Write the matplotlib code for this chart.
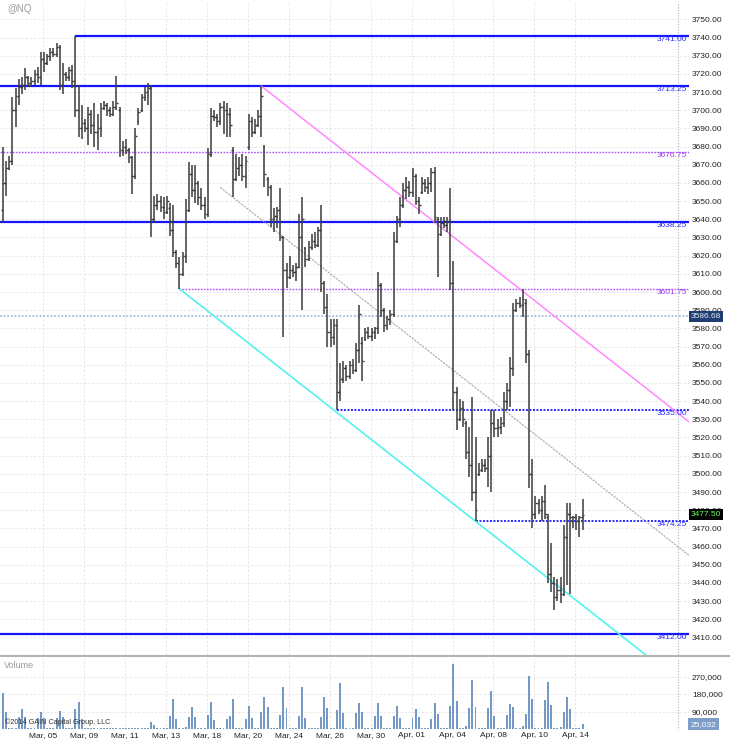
import numpy as np
import matplotlib
matplotlib.use("Agg")
import matplotlib.pyplot as plt
import matplotlib.transforms as mtransforms
from matplotlib.lines import Line2D
from matplotlib.ticker import FuncFormatter

plt.rcParams['font.family'] = ['Liberation Sans', 'DejaVu Sans']

# ---------------- data ----------------
symbol = "@NQ"
date_labels = ["Mar, 05", "Mar, 09", "Mar, 11", "Mar, 13", "Mar, 18", "Mar, 20", "Mar, 24",
               "Mar, 26", "Mar, 30", "Apr, 01", "Apr, 04", "Apr, 08", "Apr, 10", "Apr, 14"]

opens = [3645, 3660, 3668, 3672, 3700, 3708, 3713, 3714, 3718, 3715,
         3716, 3720, 3718, 3728, 3726, 3730, 3732, 3731, 3735, 3714,
         3720, 3718, 3722, 3716, 3700, 3690, 3693, 3690, 3698, 3692,
         3688, 3690, 3701, 3703, 3700, 3698, 3702, 3700, 3678, 3680,
         3678, 3674, 3664, 3694, 3700, 3707, 3710, 3712, 3640, 3648,
         3650, 3647, 3644, 3646, 3634, 3622, 3616, 3610, 3620, 3645,
         3665, 3656, 3660, 3652, 3648, 3643, 3676, 3697, 3696, 3694,
         3702, 3700, 3698, 3678, 3662, 3668, 3670, 3664, 3680, 3694,
         3688, 3692, 3697, 3680, 3662, 3658, 3640, 3642, 3645, 3630,
         3612, 3608, 3612, 3611, 3614, 3630, 3624, 3618, 3625, 3628,
         3626, 3634, 3605, 3592, 3578, 3575, 3582, 3545, 3552, 3558,
         3554, 3560, 3557, 3568, 3572, 3574, 3578, 3576, 3578, 3580,
         3604, 3590, 3582, 3585, 3588, 3628, 3640, 3648, 3656, 3658,
         3655, 3664, 3650, 3655, 3660, 3658, 3660, 3666, 3640, 3632,
         3638, 3637, 3639, 3605, 3545, 3530, 3536, 3528, 3512, 3505,
         3490, 3500, 3502, 3505, 3503, 3510, 3528, 3525, 3526, 3528,
         3540, 3546, 3558, 3590, 3594, 3593, 3594, 3566, 3500, 3478,
         3484, 3480, 3485, 3476, 3445, 3440, 3432, 3436, 3434, 3465,
         3478, 3474, 3476, 3474, 3476]

highs = [3680, 3672, 3675, 3707, 3712, 3717, 3718, 3723, 3719, 3718,
         3722, 3724, 3732, 3732, 3731, 3734, 3734, 3737, 3736, 3726,
         3721, 3724, 3725, 3741, 3714, 3703, 3695, 3702, 3700, 3704,
         3698, 3704, 3705, 3704, 3702, 3705, 3719, 3702, 3683, 3684,
         3679, 3675, 3690, 3701, 3709, 3713, 3715, 3714, 3653, 3654,
         3653, 3652, 3653, 3649, 3648, 3623, 3619, 3622, 3651, 3671.5,
         3670, 3670, 3661, 3657, 3652, 3679, 3701, 3700, 3698, 3704,
         3705, 3704, 3701, 3680, 3676, 3674, 3676, 3675, 3698, 3696,
         3695, 3700, 3713.25, 3681, 3663, 3659, 3646, 3647, 3657, 3631,
         3616, 3620, 3615, 3616, 3643, 3652, 3625, 3628, 3632, 3633,
         3636, 3648, 3606, 3599, 3585, 3585, 3585, 3561, 3562, 3560,
         3562, 3563, 3572, 3593, 3575, 3580, 3581, 3580, 3581, 3611,
         3605, 3591, 3587, 3590, 3633, 3642, 3652, 3660, 3663, 3661,
         3668, 3665, 3652, 3663, 3662, 3663, 3668, 3669, 3641, 3641,
         3641, 3641, 3657, 3617, 3548, 3541, 3540, 3529, 3526, 3542,
         3520, 3506, 3508, 3508, 3520, 3535, 3535, 3530, 3531, 3545,
         3550, 3564, 3594, 3596, 3597, 3601.75, 3596, 3568, 3508, 3488,
         3486, 3488, 3494, 3478, 3462, 3443, 3442, 3443, 3472, 3484,
         3484, 3477, 3478, 3477, 3486]

lows = [3638, 3653, 3667, 3670, 3691, 3703, 3709, 3711, 3713, 3713,
        3714, 3715, 3714, 3721, 3725, 3727, 3729, 3729, 3711, 3709,
        3716, 3716, 3712, 3696, 3685, 3684, 3688, 3681, 3687, 3680,
        3678, 3685, 3700, 3697, 3696, 3697, 3700, 3674, 3675, 3676,
        3671, 3654, 3662, 3692, 3699, 3705, 3703, 3630, 3638, 3645,
        3644, 3640, 3643, 3631, 3619, 3613, 3601.75, 3609, 3616, 3644,
        3652, 3649, 3648, 3645, 3640, 3641, 3674, 3694, 3691, 3692,
        3687, 3685, 3685, 3652, 3661, 3664, 3661, 3657, 3678, 3685,
        3687, 3691, 3685, 3658, 3653, 3636, 3633, 3635, 3628, 3575,
        3602, 3607, 3608, 3606, 3613, 3590, 3614, 3617, 3623, 3624,
        3625, 3600, 3588, 3570, 3570, 3571, 3535, 3540, 3550, 3551,
        3552, 3555, 3556, 3561, 3551, 3573, 3574, 3573, 3574, 3577,
        3586, 3578, 3579, 3582, 3586, 3627, 3636, 3646, 3651, 3652,
        3652, 3648, 3643, 3654, 3655, 3654, 3655, 3638, 3608, 3631,
        3635, 3633, 3601, 3535, 3524, 3529, 3526, 3508, 3498, 3485,
        3474.25, 3499, 3501, 3501, 3493, 3490, 3520, 3520, 3522, 3526,
        3535, 3537, 3554, 3589, 3591, 3586, 3561, 3492, 3470, 3475,
        3478, 3474, 3475, 3440, 3435, 3425, 3430, 3429, 3433, 3439,
        3434, 3470, 3469, 3465, 3469]

closes = [3660, 3668, 3672, 3700, 3708, 3713, 3714, 3718, 3715, 3716,
          3720, 3718, 3728, 3726, 3730, 3732, 3731, 3735, 3714, 3720,
          3718, 3722, 3716, 3700, 3690, 3693, 3690, 3698, 3692, 3688,
          3690, 3701, 3703, 3700, 3698, 3702, 3704, 3678, 3680, 3678,
          3674, 3664, 3686, 3699, 3707, 3710, 3712, 3640, 3648, 3650,
          3647, 3644, 3650, 3634, 3622, 3616, 3610, 3620, 3645, 3665,
          3656, 3660, 3652, 3648, 3643, 3676, 3697, 3696, 3694, 3702,
          3700, 3698, 3692, 3662, 3668, 3670, 3664, 3672, 3694, 3688,
          3692, 3697, 3708, 3665, 3658, 3640, 3642, 3645, 3630, 3612,
          3608, 3612, 3611, 3614, 3630, 3640, 3618, 3625, 3628, 3626,
          3634, 3605, 3592, 3578, 3575, 3582, 3545, 3552, 3558, 3554,
          3560, 3557, 3568, 3588, 3562, 3578, 3576, 3578, 3580, 3604,
          3590, 3582, 3585, 3588, 3628, 3640, 3648, 3656, 3658, 3655,
          3664, 3650, 3648, 3660, 3658, 3660, 3666, 3641, 3632, 3638,
          3637, 3639, 3605, 3545, 3530, 3536, 3530, 3512, 3505, 3490,
          3480, 3502, 3505, 3503, 3510, 3528, 3525, 3526, 3528, 3540,
          3546, 3558, 3590, 3594, 3593, 3596, 3566, 3500, 3478, 3484,
          3480, 3485, 3478, 3445, 3440, 3432, 3436, 3434, 3465, 3478,
          3476, 3476, 3474, 3476, 3477.5]

volumes = [187000, 86000, 4000, 4000, 5000, 63000, 105000, 60000, 5000, 4000,
           6000, 55000, 89000, 55000, 4000, 3000, 4000, 55000, 93000, 63000,
           4000, 3000, 5000, 101000, 137000, 53000, 4000, 5000, 3000, 4000,
           5000, 3000, 4000, 6000, 3000, 4000, 5000, 3000, 4000, 5000,
           3000, 4000, 6000, 3000, 4000, 5000, 3000, 34000, 20000, 3000,
           3000, 4000, 3000, 67000, 154000, 50000, 4000, 3000, 12000, 60000,
           113000, 63000, 4000, 3000, 5000, 72000, 137000, 46000, 4000, 3000,
           5000, 50000, 69000, 153000, 4000, 3000, 5000, 50000, 120000, 55000,
           4000, 5000, 86000, 163000, 111000, 4000, 3000, 5000, 72000, 214000,
           110000, 4000, 3000, 5000, 65000, 218000, 57000, 4000, 3000, 5000,
           4000, 60000, 166000, 106000, 4000, 5000, 100000, 238000, 81000, 4000,
           3000, 5000, 81000, 132000, 86000, 4000, 3000, 5000, 69000, 132000,
           69000, 4000, 3000, 5000, 67000, 120000, 55000, 4000, 3000, 5000,
           55000, 101000, 62000, 4000, 3000, 5000, 50000, 132000, 77000, 4000,
           3000, 5000, 120000, 333000, 146000, 4000, 3000, 15000, 106000, 252000,
           115000, 4000, 3000, 5000, 106000, 197000, 69000, 4000, 3000, 5000,
           72000, 127000, 115000, 4000, 3000, 17000, 77000, 273000, 153000, 4000,
           3000, 7000, 147000, 242000, 125000, 4000, 3000, 12000, 86000, 163000,
           103000, 4000, 3000, 4000, 25032]

levels = [3741.00, 3713.25, 3676.75, 3638.25, 3601.75, 3535.00, 3474.25, 3412.00]
level_kinds = ["solid", "solid", "purple", "solid", "purple", "blue_dot", "blue_dot", "solid"]
level_anchored = [True, False, False, False, True, True, True, False]

crosshair_price = 3586.68
channel_slope = -1.36          # price per bar
channel_mid_start = 69         # bar where the mid line begins
crosshair_bar = 214.3

n = len(closes)
assert len(opens) == len(highs) == len(lows) == len(volumes) == n
idx = np.arange(n)
opens = np.array(opens, float); highs = np.array(highs, float)
lows = np.array(lows, float); closes = np.array(closes, float)
volumes = np.array(volumes, float)

# ---------------- layout ----------------
W, H = 730, 750
fig = plt.figure(figsize=(W / 100, H / 100), dpi=100)
fig.patch.set_facecolor("white")

def rect(x0, y0, x1, y1):
    return [x0 / W, 1 - y1 / H, (x1 - x0) / W, (y1 - y0) / H]

ax = fig.add_axes(rect(0, 2, 689, 655))
axv = fig.add_axes(rect(0, 658, 689, 730), sharex=ax)

bar_px = 3.15
first_px = 3.0
x_lo = (0 - first_px) / bar_px
x_hi = (689 - first_px) / bar_px
ax.set_xlim(x_lo, x_hi)

px_per_pt = 1.818
ref_y, ref_p = 37.5, 3740.0
ax.set_ylim(ref_p - (655 - ref_y) / px_per_pt, ref_p - (2 - ref_y) / px_per_pt)
axv.set_ylim(-(730 - 729) / 17.5 * 90000, (729 - 658) / 17.5 * 90000)

for a in (ax, axv):
    for s in a.spines.values():
        s.set_visible(False)
    a.set_facecolor("white")

tick_pos = [12.7 + 13 * k for k in range(len(date_labels))]
grid_kw = dict(color="#e4e4e4", lw=0.6, ls=(0, (3, 2)), zorder=0)

# price axis
ax.yaxis.tick_right()
ax.set_yticks(np.arange(3410, 3751, 10))
ax.yaxis.set_major_formatter(FuncFormatter(lambda v, p: f"{v:.2f}"))
ax.tick_params(axis="y", length=0, pad=2.2, labelsize=6, labelcolor="#222222")
ax.set_xticks(tick_pos)
ax.tick_params(axis="x", length=0, labelbottom=False)
ax.grid(True, **grid_kw)
ax.set_axisbelow(True)

# volume axis
axv.yaxis.tick_right()
axv.set_yticks([90000, 180000, 270000])
axv.yaxis.set_major_formatter(FuncFormatter(lambda v, p: f"{int(v):,}"))
axv.tick_params(axis="y", length=0, pad=2.2, labelsize=6, labelcolor="#222222")
axv.set_xticks(tick_pos)
axv.set_xticklabels(date_labels)
axv.tick_params(axis="x", length=0, pad=1.5, labelsize=6, labelcolor="#222222")
axv.grid(True, **grid_kw)
axv.set_axisbelow(True)

# ---------------- OHLC bars ----------------
bar_col = "#3a3a3a"
ax.vlines(idx, lows, highs, color=bar_col, lw=1.1, zorder=5)
ax.hlines(opens, idx - 0.55, idx, color=bar_col, lw=1.0, zorder=5)
ax.hlines(closes, idx, idx + 0.55, color=bar_col, lw=1.0, zorder=5)

# ---------------- volume ----------------
axv.bar(idx, volumes, width=0.62, color="#7499c4", zorder=3)

# ---------------- levels ----------------
blended = mtransforms.blended_transform_factory(ax.transAxes, ax.transData)
styles = {
    "solid": dict(color="#1414ff", lw=1.6, ls="-"),
    "purple": dict(color="#b050ff", lw=1.0, ls=(0, (1.2, 1.0))),
    "blue_dot": dict(color="#2a2aff", lw=1.4, ls=(0, (1.0, 0.8))),
}
text_col = {"solid": "#2a2aff", "purple": "#a040f0", "blue_dot": "#2a2aff"}
for lvl, kind, anch in zip(levels, level_kinds, level_anchored):
    if anch:
        hit = np.where((highs == lvl) | (lows == lvl))[0]
        start = idx[hit[0]]
    else:
        start = x_lo
    ax.hlines(lvl, start, x_hi, zorder=4, **styles[kind])
    ax.text(687 / 689, lvl, f"{lvl:.2f}", transform=blended, ha="right", va="top",
            fontsize=6, color=text_col[kind], zorder=6)

# ---------------- regression channel ----------------
up_i = int(np.where(highs == 3713.25)[0][0])
lo_i = int(np.where(lows == 3601.75)[0][0])
up_p, lo_p = highs[up_i], lows[lo_i]
xs = np.array([up_i, x_hi])
ax.plot(xs, up_p + channel_slope * (xs - up_i), color="#ff88ff", lw=1.1, zorder=4)
xs = np.array([lo_i, x_hi])
ax.plot(xs, lo_p + channel_slope * (xs - lo_i), color="#55f0f0", lw=1.2, zorder=4)
xs = np.array([channel_mid_start, x_hi])
mid = 0.5 * ((up_p + channel_slope * (xs - up_i)) + (lo_p + channel_slope * (xs - lo_i)))
ax.plot(xs, mid, color="#a8a8a8", lw=0.8, ls=(0, (2, 1)), zorder=4)

# ---------------- crosshair ----------------
ax.axhline(crosshair_price, color="#a8bcd4", lw=1.3, ls=(0, (1, 1)), zorder=3)
ax.axvline(crosshair_bar, color="#9fb4cc", lw=0.8, ls=(0, (1, 1.5)), zorder=3)
axv.axvline(crosshair_bar, color="#9fb4cc", lw=0.8, ls=(0, (1, 1.5)), zorder=3)

# ---------------- right-side value boxes ----------------
ax.text(1.0025, crosshair_price, f"{crosshair_price:.2f}", transform=blended, ha="left",
        va="center", fontsize=6, color="#e6ecf8", zorder=10, clip_on=False,
        bbox=dict(boxstyle="square,pad=0.25", fc="#1f3d70", ec="none"))
ax.text(1.0025, closes[-1], f"{closes[-1]:.2f}", transform=blended, ha="left",
        va="center", fontsize=6, color="#66ff55", zorder=10, clip_on=False,
        bbox=dict(boxstyle="square,pad=0.25", fc="black", ec="none"))
vblend = mtransforms.blended_transform_factory(axv.transAxes, axv.transData)
axv.text(1.0025, volumes[-1], f"{int(volumes[-1]):,}", transform=vblend, ha="left",
         va="center", fontsize=6, color="white", zorder=10, clip_on=False,
         bbox=dict(boxstyle="square,pad=0.3", fc="#7f9ec9", ec="none"))

# ---------------- misc text ----------------
fig.text(7 / W, 1 - 9 / H, symbol, fontsize=7, color="#9a9a9a", ha="left", va="center")
fig.text(4 / W, 1 - 666 / H, "Volume", fontsize=6.5, color="#9a9a9a", ha="left", va="center")
fig.text(5 / W, 1 - 722 / H, "\u00a92014 GAIN Capital Group, LLC", fontsize=5.2,
         color="#333333", ha="left", va="center", zorder=12)
fig.add_artist(Line2D([0, 1], [1 - 656 / H] * 2, transform=fig.transFigure,
                      color="#b4b4b4", lw=1.5))

fig.savefig("out.png", dpi=100, facecolor="white")
